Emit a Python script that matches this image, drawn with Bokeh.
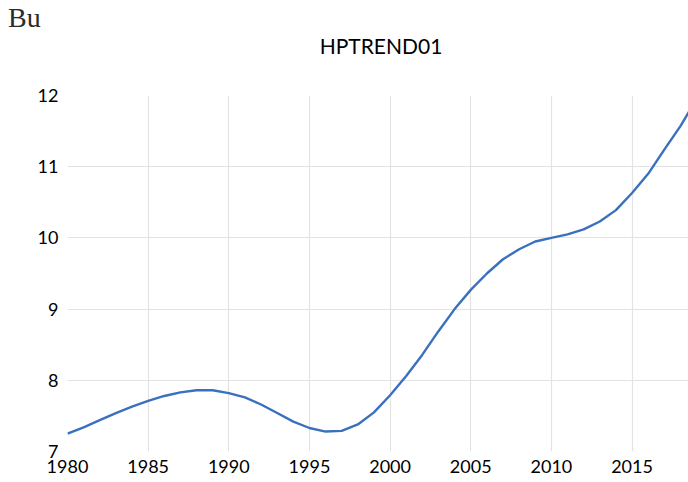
from bokeh.plotting import figure
from bokeh.models import Range1d, FixedTicker, ColumnDataSource, Div
from bokeh.layouts import column
from bokeh.embed import file_html
from bokeh.resources import INLINE

# ---- data ----
years = list(range(1980, 2020))
hptrend01 = [7.25, 7.34, 7.44, 7.54, 7.63, 7.71, 7.78, 7.83, 7.86, 7.86,
             7.82, 7.76, 7.66, 7.54, 7.42, 7.33, 7.28, 7.29, 7.38, 7.55,
             7.79, 8.06, 8.36, 8.69, 9.00, 9.27, 9.50, 9.70, 9.84, 9.95,
             10.00, 10.05, 10.12, 10.23, 10.39, 10.63, 10.90, 11.24, 11.57, 11.95]
x_ticks = [1980, 1985, 1990, 1995, 2000, 2005, 2010, 2015]
x_grid = [1985, 1990, 1995, 2000, 2005, 2010, 2015]
y_ticks = [7, 8, 9, 10, 11, 12]
y_grid = [8, 9, 10, 11]
title_text = "HPTREND01"
corner_text = "Bu"

src = ColumnDataSource(data=dict(year=years, value=hptrend01))

W, H = 688, 482
HEAD = 60
LEFT, TOP, BOTTOM = 67, 95 - HEAD, 31

header = Div(
    text=(
        '<div style="position:relative;width:%dpx;height:%dpx;margin:0;padding:0;">'
        '<span style="position:absolute;left:8px;top:4px;font-family:\'Liberation Serif\';'
        'font-size:28px;line-height:28px;color:#2b2b2b;white-space:nowrap;">%s</span>'
        '<span style="position:absolute;left:381px;top:35px;transform:translateX(-50%%);'
        'font-family:Lato;font-size:21px;line-height:21px;color:#000000;white-space:nowrap;">%s</span>'
        '</div>' % (W, HEAD, corner_text, title_text)
    ),
    width=W, height=HEAD, margin=0,
)

p = figure(width=W, height=H - HEAD, output_backend="svg", toolbar_location=None,
           x_range=Range1d(1980, 2018.5), y_range=Range1d(7, 12),
           min_border_left=LEFT, min_border_right=0, min_border_top=TOP,
           min_border_bottom=BOTTOM, background_fill_color="white",
           border_fill_color="white", outline_line_color=None, margin=0)

p.line("year", "value", source=src, line_color="#3a70bd", line_width=2.4)

# axes
for ax in (p.xaxis[0], p.yaxis[0]):
    ax.axis_line_color = None
    ax.major_tick_line_color = None
    ax.minor_tick_line_color = None
    ax.major_tick_out = 0
    ax.major_tick_in = 0
    ax.major_label_text_font = "Lato"
    ax.major_label_text_font_size = "18px"
    ax.major_label_text_color = "#000000"

p.xaxis[0].ticker = FixedTicker(ticks=x_ticks)
p.yaxis[0].ticker = FixedTicker(ticks=y_ticks)
p.xaxis[0].major_label_standoff = 8
p.yaxis[0].major_label_standoff = 9

p.xgrid[0].ticker = FixedTicker(ticks=x_grid)
p.ygrid[0].ticker = FixedTicker(ticks=y_grid)
p.xgrid[0].grid_line_color = "#e3e3e3"
p.ygrid[0].grid_line_color = "#e3e3e3"
p.xgrid[0].grid_line_width = 1.2
p.ygrid[0].grid_line_width = 1.2

layout = column(header, p, spacing=0)

open("out.html", "w").write(file_html(layout, INLINE))
